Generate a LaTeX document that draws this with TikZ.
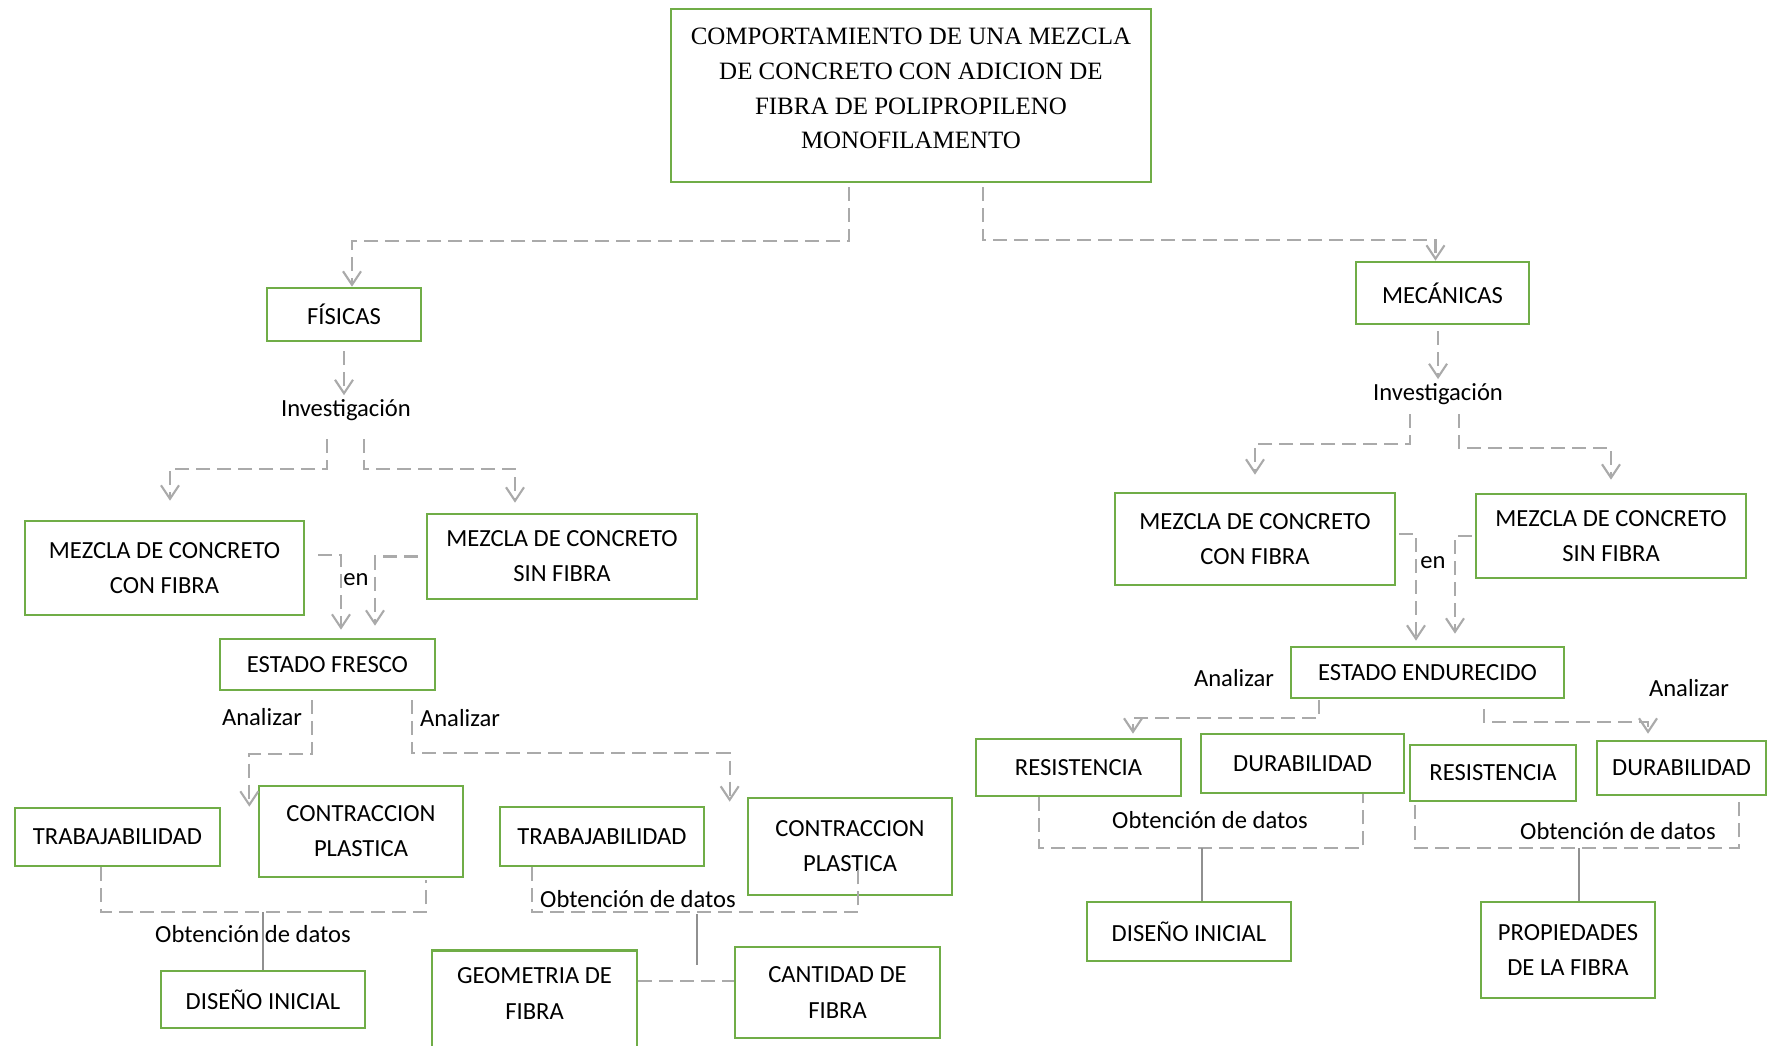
\documentclass[tikz,border=0pt]{standalone}
\usepackage{fontspec}
\setmainfont{Carlito}
\newfontfamily\titlefont{Liberation Serif}
\usetikzlibrary{arrows.meta,positioning,calc}
\definecolor{boxgreen}{RGB}{112,173,71}
\definecolor{linegray}{RGB}{170,170,170}
\tikzset{
        box/.style={ % green frames of the map
            draw=boxgreen,
            line width=0.75pt,
            align=center,
            inner sep=0pt,
            font=\fontsize{7}{10}\selectfont},
        lbl/.style={ % words written next to the connectors
            inner sep=1pt,
            font=\fontsize{7}{10}\selectfont},
        dl/.style={ % dashed connectors
            draw=linegray,
            line width=0.6pt,
            dash pattern=on 1.4mm off 0.7mm},
        sl/.style={ % solid connectors
            draw=linegray!85!black,
            line width=0.6pt},
        >={Straight Barb[length=1.35mm,width=1.8mm]}
        }

\begin{document}
\begin{tikzpicture}
    \path[use as bounding box, fill=white] (0,0) rectangle (17.68,-10.45);

    % title
    \node[box, minimum width=4.80cm, minimum height=1.73cm, text depth=4pt,
          font=\titlefont\fontsize{7.1}{9.9}\selectfont] (tit) at (9.11,-0.955)
        {COMPORTAMIENTO DE UNA MEZCLA\\DE CONCRETO CON ADICION DE\\FIBRA DE POLIPROPILENO\\MONOFILAMENTO};

    % left branch
    \node[box, minimum width=1.54cm, minimum height=0.53cm] (fis)   at (3.44,-3.145)  {FÍSICAS};
    \node[lbl]                                               (inv1)  at (3.46,-4.10)   {Investigación};
    \node[box, minimum width=2.79cm, minimum height=0.94cm] (mcf1)  at (1.645,-5.68)  {MEZCLA DE CONCRETO\\CON FIBRA};
    \node[box, minimum width=2.70cm, minimum height=0.85cm] (msf1)  at (5.62,-5.565)  {MEZCLA DE CONCRETO\\SIN FIBRA};
    \node[lbl]                                               (en1)   at (3.56,-5.80)   {en};
    \node[box, minimum width=2.15cm, minimum height=0.51cm] (ef)    at (3.275,-6.645) {ESTADO FRESCO};
    \node[lbl]                                               (an1)   at (2.62,-7.17)   {Analizar};
    \node[lbl]                                               (an2)   at (4.60,-7.18)   {Analizar};
    \node[box, minimum width=2.05cm, minimum height=0.58cm] (trab1) at (1.175,-8.37)  {TRABAJABILIDAD};
    \node[box, minimum width=2.04cm, minimum height=0.91cm] (cont1) at (3.61,-8.315)  {CONTRACCION\\PLASTICA};
    \node[lbl]                                               (obt1)  at (2.53,-9.34)   {Obtención de datos};
    \node[box, minimum width=2.04cm, minimum height=0.57cm] (dis1)  at (2.63,-9.995)  {DISEÑO INICIAL};
    \node[box, minimum width=2.04cm, minimum height=0.59cm] (trab2) at (6.02,-8.365)  {TRABAJABILIDAD};
    \node[box, minimum width=2.04cm, minimum height=0.97cm] (cont2) at (8.50,-8.465)  {CONTRACCION\\PLASTICA};
    \node[lbl]                                               (obt2)  at (6.38,-8.99)   {Obtención de datos};
    \node[box, minimum width=2.05cm, anchor=north, inner ysep=5pt] (geo) at (5.345,-9.49) {GEOMETRIA DE\\FIBRA\\[1cm]\mbox{}};
    \node[box, minimum width=2.05cm, minimum height=0.91cm] (cant)  at (8.375,-9.925) {CANTIDAD DE\\FIBRA};

    % right branch
    \node[box, minimum width=1.73cm, minimum height=0.62cm] (mec)   at (14.425,-2.93) {MECÁNICAS};
    \node[lbl]                                               (inv2)  at (14.38,-3.94)  {Investigación};
    \node[box, minimum width=2.80cm, minimum height=0.92cm] (mcf2)  at (12.55,-5.39)  {MEZCLA DE CONCRETO\\CON FIBRA};
    \node[box, minimum width=2.70cm, minimum height=0.84cm] (msf2)  at (16.11,-5.36)  {MEZCLA DE CONCRETO\\SIN FIBRA};
    \node[lbl]                                               (en2)   at (14.33,-5.63)  {en};
    \node[box, minimum width=2.73cm, minimum height=0.51cm] (ee)    at (14.275,-6.725) {ESTADO ENDURECIDO};
    \node[lbl]                                               (an3)   at (12.34,-6.78)  {Analizar};
    \node[lbl]                                               (an4)   at (16.89,-6.88)  {Analizar};
    \node[box, minimum width=2.05cm, minimum height=0.57cm] (res1)  at (10.785,-7.675) {RESISTENCIA};
    \node[box, minimum width=2.03cm, minimum height=0.59cm] (dur1)  at (13.025,-7.635) {DURABILIDAD};
    \node[lbl]                                               (obt3)  at (12.10,-8.20)  {Obtención de datos};
    \node[box, minimum width=2.04cm, minimum height=0.59cm] (dis2)  at (11.89,-9.315) {DISEÑO INICIAL};
    \node[box, minimum width=1.66cm, minimum height=0.56cm] (res2)  at (14.93,-7.73)  {RESISTENCIA};
    \node[box, minimum width=1.69cm, minimum height=0.54cm] (dur2)  at (16.815,-7.68) {DURABILIDAD};
    \node[lbl]                                               (obt4)  at (16.18,-8.31)  {Obtención de datos};
    \node[box, minimum width=1.74cm, minimum height=0.96cm] (prop)  at (15.68,-9.50)  {PROPIEDADES\\DE LA FIBRA};

    % connectors, left
    \draw[dl,->] ([shift={(-0.62,-0.04)}]tit.south) -- ++(0,-0.54) -| ([xshift=0.08cm]fis.north);
    \draw[dl,->] ([yshift=-0.9mm]fis.south) -- ([xshift=-0.02cm]inv1.north);
    \draw[dl,->] ([shift={(-0.19,-0.145)}]inv1.south) -- ++(0,-0.30) -| ([shift={(0.055,0.19)}]mcf1.north);
    \draw[dl,->] ([shift={(0.18,-0.145)}]inv1.south) -- ++(0,-0.30) -| ([shift={(-0.47,0.10)}]msf1.north);
    \draw[dl,->] ([shift={(0.13,0.13)}]mcf1.east) -| ([shift={(0.135,0.08)}]ef.north);
    \draw[dl,->] ([xshift=-0.08cm]msf1.west) -| ([shift={(0.475,0.12)}]ef.north);
    \draw[dl,->] ([shift={(-0.155,-0.09)}]ef.south) -- ++(0,-0.54) -| ([xshift=0.28cm]trab1.north east);
    \draw[dl,->] ([shift={(0.845,-0.09)}]ef.south) -- ++(0,-0.53) -| ([shift={(-0.17,-0.05)}]cont2.north west);
    \draw[dl] ([xshift=-0.165cm]trab1.south) -- ++(0,-0.45) coordinate (o1) -| ([shift={(0.65,-0.02)}]cont1.south);
    \draw[sl] (dis1.north) -- (dis1.north |- o1);
    \draw[dl] ([xshift=-0.70cm]trab2.south) -- ++(0,-0.45) coordinate (o2) -| ([shift={(0.08,0.27)}]cont2.south);
    \draw[sl] ([shift={(1.65,-0.02)}]o2) -- ++(0,-0.51);
    \draw[dl] ([yshift=1.15mm]cant.west -| geo.east) -- ([yshift=1.15mm]cant.west);

    % connectors, right
    \draw[dl,->] ([shift={(0.72,-0.04)}]tit.south) -- ++(0,-0.53) -| ([xshift=-0.07cm]mec.north);
    \draw[dl,->] ([shift={(-0.045,-0.06)}]mec.south) -- (inv2.north);
    \draw[dl,->] ([shift={(-0.28,-0.055)}]inv2.south) -- ++(0,-0.30) -| ([yshift=1.7mm]mcf2.north);
    \draw[dl,->] ([shift={(0.21,-0.055)}]inv2.south) -- ++(0,-0.34) -| ([yshift=1.3mm]msf2.north);
    \draw[dl,->] ([shift={(0.03,0.05)}]mcf2.east) -| ([shift={(-0.115,0.05)}]ee.north);
    \draw[dl,->] ([xshift=-0.03cm]msf2.west) -| ([shift={(0.275,0.12)}]ee.north);
    \draw[dl,->] ([shift={(-1.085,-0.01)}]ee.south) -- ++(0,-0.18) -| ([shift={(0.545,0.04)}]res1.north);
    \draw[dl,->] ([shift={(0.565,-0.10)}]ee.south) -- ++(0,-0.13) -| ([shift={(-0.335,0.06)}]dur2.north);
    \draw[dl] ([xshift=-0.395cm]res1.south) -- ++(0,-0.51) coordinate (o3) -| ([xshift=0.605cm]dur1.south);
    \draw[sl] ([xshift=0.13cm]dis2.north) -- ([xshift=0.13cm]dis2.north |- o3);
    \draw[dl] ([shift={(-0.78,-0.03)}]res2.south) -- ++(0,-0.43) coordinate (o4) -| ([xshift=0.575cm]dur2.south);
    \draw[sl] ([xshift=0.11cm]prop.north) -- ([xshift=0.11cm]prop.north |- o4);
\end{tikzpicture}
\end{document}
